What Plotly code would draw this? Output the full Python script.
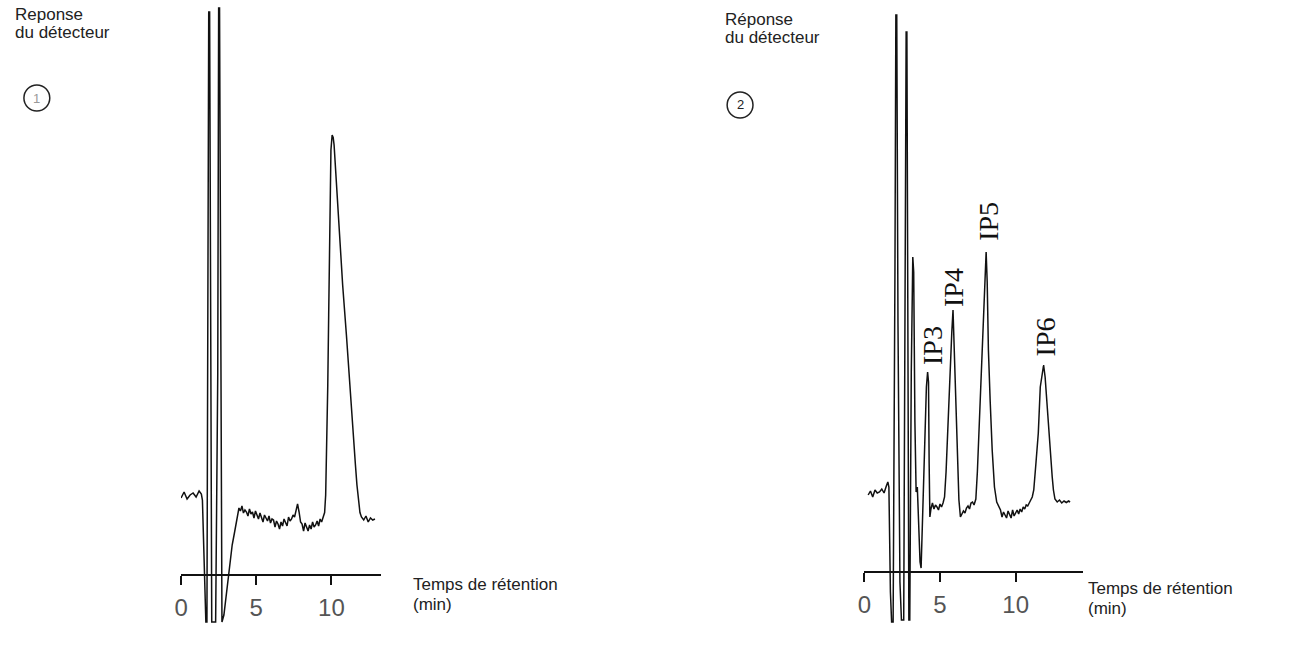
import plotly.graph_objects as go

# ---------------- data (retention time in min, detector response in arbitrary units) -------------
# Chromatogram 1
t1 = [0.0, 0.2, 0.4, 0.6, 0.8, 1.0, 1.2, 1.35, 1.42, 1.50, 1.58, 1.65, 1.72, 1.78, 1.84, 1.90, 1.96,
      2.04, 2.14, 2.30, 2.44, 2.50, 2.56, 2.64, 2.72, 2.85, 3.0, 3.2, 3.4, 3.55, 3.7, 3.8,
      3.85, 3.95, 4.05, 4.15, 4.25, 4.35, 4.45, 4.55, 4.65, 4.75, 4.85, 4.95, 5.05, 5.15, 5.25, 5.35,
      5.45, 5.55, 5.65, 5.75, 5.85, 5.95, 6.05, 6.15, 6.25, 6.35, 6.45, 6.55, 6.65, 6.75, 6.85, 6.95,
      7.05, 7.15, 7.25, 7.35, 7.45, 7.55, 7.65, 7.75, 7.85, 7.95, 8.05, 8.15, 8.25, 8.35, 8.45, 8.55,
      8.65, 8.75, 8.85, 8.95, 9.05, 9.15, 9.25, 9.35, 9.45, 9.55, 9.62, 9.70, 9.76, 9.82, 9.87, 9.92,
      9.97, 10.05, 10.12, 10.18, 10.30, 10.45, 10.57, 10.75, 11.0, 11.15, 11.30, 11.45, 11.60, 11.70,
      11.80, 11.90, 12.0, 12.15, 12.3, 12.45, 12.6, 12.75, 12.9]
r1 = [15.4, 16.6, 15.2, 16.0, 16.4, 15.6, 16.8, 16.2, 15.0, 6.0, -3.0, -9.4, -9.4, 40.0, 112.6, 112.6, 40.0,
      -9.4, -9.4, -9.4, 40.0, 113.4, 113.4, 40.0, -9.4, -8.0, -4.0, 1.0, 6.0, 8.4, 11.0, 13.2,
      13.4, 12.8, 13.8, 12.4, 13.0, 12.6, 11.8, 13.2, 12.2, 12.6, 11.4, 12.8, 11.8, 11.2, 12.4, 11.6,
      10.6, 12.0, 11.4, 10.8, 11.8, 10.4, 11.2, 11.0, 9.6, 10.8, 10.2, 9.2, 10.6, 9.8, 11.2, 10.4,
      9.8, 11.6, 10.8, 11.2, 12.0, 11.6, 13.0, 14.2, 12.6, 10.6, 10.2, 8.8, 10.4, 9.4, 8.8, 10.0,
      9.2, 10.6, 9.6, 10.0, 10.8, 9.8, 11.2, 10.6, 11.4, 12.5, 16.0, 26.0, 38.0, 52.0, 66.0, 80.0,
      85.0, 88.0, 87.5, 86.0, 80.0, 71.0, 65.0, 58.0, 48.0, 41.0, 35.0, 28.0, 22.0, 18.0,
      14.5, 12.5, 11.6, 11.0, 11.8, 10.6, 11.4, 11.0, 11.2]

# Chromatogram 2
t2 = [0.25, 0.4, 0.55, 0.7, 0.85, 1.0, 1.15, 1.3, 1.45, 1.55, 1.62, 1.66, 1.72, 1.80, 1.90, 2.02, 2.08,
      2.14, 2.22, 2.35, 2.45, 2.60, 2.70, 2.76, 2.81, 2.88, 2.94, 3.0, 3.10, 3.20, 3.26, 3.34, 3.42,
      3.50, 3.58, 3.68, 3.75, 3.85, 3.98, 4.10, 4.18, 4.24, 4.28, 4.33, 4.40, 4.5, 4.6, 4.7, 4.8, 4.9,
      5.0, 5.1, 5.2, 5.3, 5.4, 5.5, 5.6, 5.7, 5.78, 5.86, 5.94, 6.02, 6.12, 6.25, 6.35, 6.45, 6.55,
      6.65, 6.75, 6.85, 6.95, 7.05, 7.15, 7.25, 7.37, 7.47, 7.57, 7.70, 7.83, 7.92, 8.0, 8.05, 8.12,
      8.2, 8.32, 8.45, 8.6, 8.75, 9.0, 9.1, 9.2, 9.3, 9.4, 9.5, 9.6, 9.7, 9.8, 9.9, 10.0, 10.1, 10.2,
      10.3, 10.4, 10.5, 10.6, 10.7, 10.8, 10.9, 11.0, 11.1, 11.2, 11.35, 11.5, 11.63, 11.75, 11.85,
      11.95, 12.05, 12.15, 12.3, 12.42, 12.5, 12.6, 12.75, 12.9, 13.05, 13.2, 13.35, 13.5, 13.6]
r2 = [15.4, 16.2, 15.0, 16.4, 15.8, 16.0, 16.6, 15.8, 17.2, 18.0, 17.0, 8.0, -4.0, -10.0, -10.0, 60.0, 111.4,
      111.4, 50.0, -2.0, -9.6, -9.6, 70.0, 108.0, 108.0, 30.0, -9.6, -9.6, 40.0, 63.0, 60.0, 30.0, 16.0,
      17.0, 10.0, 2.0, 0.8, 12.0, 26.0, 37.0, 40.0, 38.0, 22.0, 11.0, 12.6, 13.8, 12.6, 13.4, 13.0, 12.4,
      13.6, 13.0, 13.8, 15.0, 20.0, 27.8, 36.0, 41.0, 48.0, 52.4, 45.0, 34.4, 24.0, 14.4, 11.0, 11.8, 12.2,
      11.8, 12.8, 13.2, 12.6, 13.8, 14.0, 13.4, 14.6, 20.0, 27.8, 38.0, 47.8, 54.4, 63.0, 64.0, 58.0,
      44.4, 34.0, 24.4, 17.0, 14.0, 12.4, 11.0, 12.0, 11.4, 10.8, 12.2, 11.6, 10.8, 12.4, 11.2, 11.8, 12.4, 11.6,
      12.6, 12.0, 13.0, 12.6, 13.4, 13.2, 14.0, 14.4, 15.0, 16.4, 22.0, 27.8, 37.0, 40.0, 41.4,
      39.0, 34.4, 30.0, 24.4, 19.0, 16.4, 14.6, 14.0, 14.4, 13.8, 14.2, 13.9, 14.2, 14.0]

tick_vals = [0, 5, 10]
tick_text = ["0", "5", "10"]
peak_labels = ["IP3", "IP4", "IP5", "IP6"]

# ---------------- figure -------------------------------------------------------------------------
W, H = 1311, 652

def px_x(p):
    return p / W

def px_y(p):
    return (H - p) / H

fig = go.Figure()
line_style = dict(color="#111111", width=1.5)
fig.add_trace(go.Scatter(x=t1, y=r1, mode="lines", line=line_style, xaxis="x", yaxis="y",
                         showlegend=False, hoverinfo="skip"))
fig.add_trace(go.Scatter(x=t2, y=r2, mode="lines", line=line_style, xaxis="x2", yaxis="y2",
                         showlegend=False, hoverinfo="skip"))

tickfont = dict(family="Liberation Sans Narrow, Liberation Sans, Arial", size=24, color="#555555")
common_x = dict(showline=True, linecolor="#111111", linewidth=1.5, ticks="outside", ticklen=9,
                tickwidth=1.5, tickcolor="#111111", tickvals=tick_vals, ticktext=tick_text,
                showgrid=False, zeroline=False, tickfont=tickfont, anchor="free",
                ticklabelstandoff=2)

fig.update_layout(
    width=W, height=H,
    margin=dict(l=0, r=0, t=0, b=0),
    paper_bgcolor="white", plot_bgcolor="white",
    xaxis=dict(domain=[px_x(175), px_x(376)], range=[0, 13.3], position=px_y(575), **common_x),
    yaxis=dict(domain=[px_y(630), 1], range=[-11, 115], visible=False),
    xaxis2=dict(domain=[px_x(862), px_x(1082)], range=[0, 14.47], position=px_y(572), **common_x),
    yaxis2=dict(domain=[px_y(630), 1], range=[-11.6, 114.4], visible=False, anchor="x2"),
)

txt_font = dict(family="Liberation Sans, Arial", size=17, color="#222222")
ann = []
# y-axis captions
for x0, y0, first in [(6, 3, "Reponse"), (720, 8, "Réponse")]:
    ann.append(dict(text=first, x=px_x(x0), y=px_y(y0), xref="paper", yref="paper",
                    xanchor="left", yanchor="top", showarrow=False, font=txt_font))
    ann.append(dict(text="du détecteur", x=px_x(x0), y=px_y(y0 + 18), xref="paper", yref="paper",
                    xanchor="left", yanchor="top", showarrow=False, font=txt_font))
# x-axis captions
for x0, y0 in [(406, 573), (1085, 577)]:
    ann.append(dict(text="Temps de rétention", x=px_x(x0), y=px_y(y0), xref="paper", yref="paper",
                    xanchor="left", yanchor="top", showarrow=False, font=txt_font))
    ann.append(dict(text="(min)", x=px_x(x0), y=px_y(y0 + 20), xref="paper", yref="paper",
                    xanchor="left", yanchor="top", showarrow=False, font=txt_font))

# circled chromatogram numbers
shapes = []
for cx, cy, num in [(30, 98, "1"), (737, 105, "2")]:
    r = 13
    shapes.append(dict(type="circle", xref="paper", yref="paper",
                       x0=px_x(cx - r), x1=px_x(cx + r), y0=px_y(cy + r), y1=px_y(cy - r),
                       line=dict(color="#222222", width=1.5)))
    ann.append(dict(text=num, x=px_x(cx), y=px_y(cy), xref="paper", yref="paper",
                    xanchor="center", yanchor="middle", showarrow=False,
                    font=dict(family="Liberation Sans, Arial", size=13,
                              color="#999999" if num == "1" else "#222222")))

# peak labels (rotated), placed just above each peak top
label_pos = [(4.47, 45.4), (5.86, 56.8), (8.16, 70.2), (11.97, 47.0)]
for lab, (lx, ly) in zip(peak_labels, label_pos):
    ann.append(dict(text=lab, x=lx, y=ly, xref="x2", yref="y2", textangle=-90,
                    xanchor="center", yanchor="middle", showarrow=False,
                    font=dict(family="Liberation Serif, Times New Roman", size=28, color="#111111")))

fig.update_layout(annotations=ann, shapes=shapes)
fig.write_html("out.html", config={"displayModeBar": False},
               post_script="document.body.style.margin='0px';document.body.style.overflow='hidden';")
